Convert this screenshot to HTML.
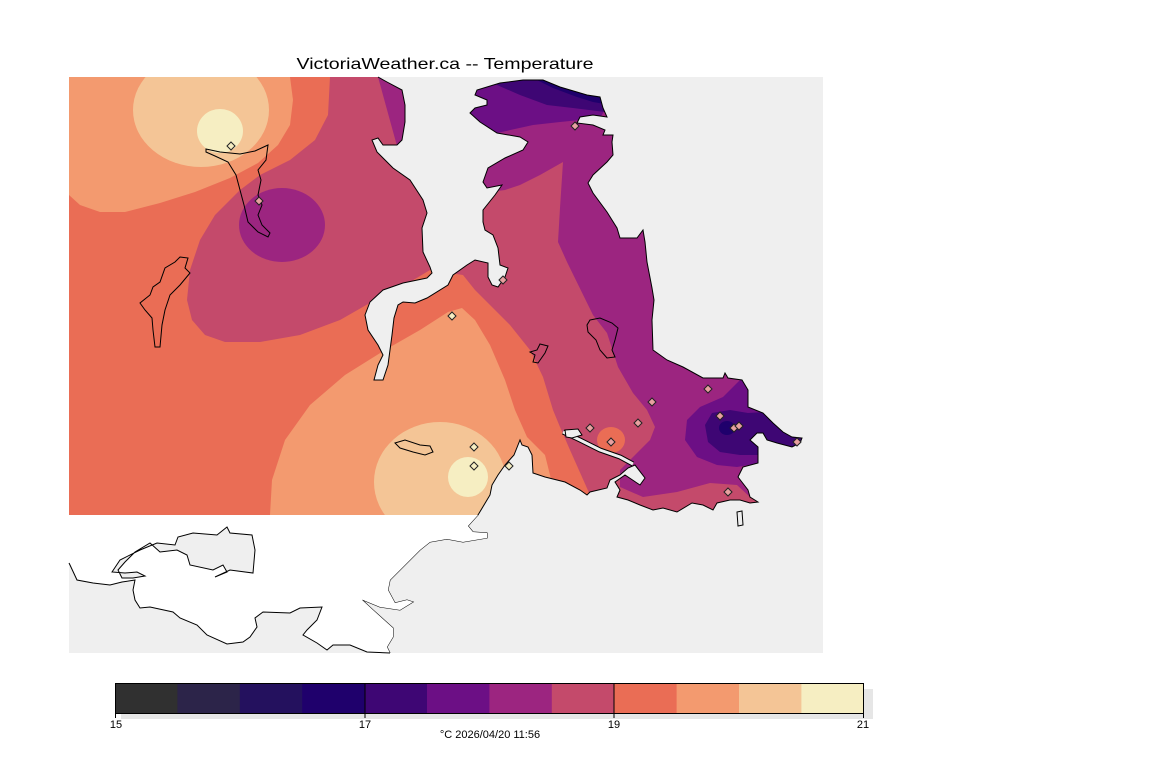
<!DOCTYPE html>
<html><head><meta charset="utf-8"><style>
html,body{margin:0;padding:0;background:#fff;width:1152px;height:768px;overflow:hidden}
svg{display:block}
text{font-family:"Liberation Sans","DejaVu Sans",sans-serif;fill:#000}
</style></head><body>
<svg width="1152" height="768" viewBox="0 0 1152 768" xmlns="http://www.w3.org/2000/svg">
<defs><clipPath id="fc"><rect x="69" y="77" width="754" height="438"/></clipPath></defs>
<text x="445" y="69" font-size="16" text-anchor="middle" textLength="297" lengthAdjust="spacingAndGlyphs">VictoriaWeather.ca -- Temperature</text>
<rect x="69" y="77" width="754" height="576" fill="#efefef"/>
<g clip-path="url(#fc)">
<rect x="69" y="77" width="754" height="438" fill="#ea6d55"/>
<polygon fill="#f39a6f" points="69,77 290,77 293,100 290,125 278,145 258,163 230,178 195,192 160,203 125,212 100,212 80,205 69,195"/>
<ellipse cx="201" cy="110" rx="68" ry="57" fill="#f4c596"/>
<ellipse cx="220" cy="131" rx="23" ry="22" fill="#f6eec2"/>
<polygon fill="#f39a6f" points="270,515 272,480 285,440 310,405 345,375 385,350 420,330 448,312 462,308 475,320 490,345 505,380 515,410 527,437 545,455 560,515"/>
<ellipse cx="440" cy="482" rx="66" ry="60" fill="#f4c596"/>
<ellipse cx="468" cy="477" rx="20" ry="20" fill="#f6eec2"/>
<polygon fill="#c44a6b" points="330,77 328,115 315,140 290,160 260,175 240,190 215,215 200,240 190,270 187,300 192,320 205,335 225,342 260,342 300,335 340,320 375,300 405,285 430,270 463,275 475,290 490,305 510,325 530,350 543,377 553,410 560,427 570,450 590,495 600,515 823,515 823,77"/>
<ellipse cx="282" cy="225" rx="43" ry="37" fill="#9c2580"/>
<polygon fill="#9c2580" points="378,77 400,77 406,100 406,140 397,146"/>
<polygon fill="#9c2580" points="490,192 505,190 520,185 540,175 563,162 560,208 558,242 567,262 593,315 607,333 618,367 633,393 647,410 655,427 650,440 633,457 620,470 620,487 643,497 677,492 710,483 737,485 750,497 823,497 823,77 460,77 460,192"/>
<ellipse cx="611" cy="440" rx="14" ry="13" fill="#ea6d55"/>
<polygon fill="#6c0f85" points="460,77 470,115 497,133 533,125 560,122 600,118 625,77"/>
<polygon fill="#3e0674" points="480,77 497,85 520,95 547,105 573,108 605,112 625,77"/>
<polygon fill="#1f006c" points="520,77 537,80 553,88 577,97 593,102 610,105 625,77"/>
<polygon fill="#6c0f85" points="745,375 723,397 700,407 687,420 685,440 697,457 717,465 737,467 760,463 823,460 823,375"/>
<polygon fill="#3e0674" points="705,425 712,413 730,410 748,413 765,412 823,410 823,470 760,455 740,455 720,452 708,442"/>
<ellipse cx="727" cy="428" rx="8" ry="7" fill="#1f006c"/>
</g>
<polygon fill="#efefef" points="378,77 387,82 402,90 405,105 405,122 402,140 397,145 383,145 378,138 372,140 377,152 393,168 410,180 423,200 427,213 422,228 423,252 430,267 432,273 427,278 403,283 383,290 370,302 365,315 368,330 378,345 383,355 378,365 374,380 383,380 388,365 390,350 392,335 394,318 398,305 403,302 415,303 427,298 448,285 453,275 467,265 475,260 488,263 488,277 492,285 498,287 505,277 508,268 500,265 498,248 493,235 485,230 483,222 483,210 495,195 502,185 487,188 483,182 488,168 505,158 523,150 528,142 520,137 497,133 480,122 470,113 475,108 487,105 487,100 475,95 477,90 500,83 523,80 543,80 560,87 587,95 600,97 603,108 607,117 593,115 580,117 577,123 593,125 605,130 603,135 613,135 612,142 613,155 607,162 593,175 588,183 593,193 607,212 617,228 620,238 637,238 643,230 645,242 647,262 652,288 654,300 652,320 653,350 667,360 683,367 703,378 723,378 725,373 728,378 742,380 748,390 748,407 763,413 773,423 783,432 792,437 802,438 800,443 792,447 777,443 767,440 763,433 757,433 750,440 758,447 758,463 743,467 738,477 748,490 750,497 758,502 750,503 740,500 730,500 717,503 713,510 703,505 692,503 677,512 663,508 653,510 640,505 628,500 617,497 620,490 615,482 625,475 640,485 645,478 635,465 628,468 620,475 610,480 607,488 590,492 587,495 580,490 565,482 545,477 533,473 532,455 528,447 522,445 520,440 514,455 505,465 498,475 492,485 490,495 478,515 823,515 823,77"/>
<polyline fill="none" stroke="#000" stroke-width="1" points="378,77 387,82 402,90 405,105 405,122 402,140 397,145 383,145 378,138 372,140 377,152 393,168 410,180 423,200 427,213 422,228 423,252 430,267 432,273 427,278 403,283 383,290 370,302 365,315 368,330 378,345 383,355 378,365 374,380 383,380 388,365 390,350 392,335 394,318 398,305 403,302 415,303 427,298 448,285 453,275 467,265 475,260 488,263 488,277 492,285 498,287 505,277 508,268 500,265 498,248 493,235 485,230 483,222 483,210 495,195 502,185 487,188 483,182 488,168 505,158 523,150 528,142 520,137 497,133 480,122 470,113 475,108 487,105 487,100 475,95 477,90 500,83 523,80 543,80 560,87 587,95 600,97 603,108 607,117 593,115 580,117 577,123 593,125 605,130 603,135 613,135 612,142 613,155 607,162 593,175 588,183 593,193 607,212 617,228 620,238 637,238 643,230 645,242 647,262 652,288 654,300 652,320 653,350 667,360 683,367 703,378 723,378 725,373 728,378 742,380 748,390 748,407 763,413 773,423 783,432 792,437 802,438 800,443 792,447 777,443 767,440 763,433 757,433 750,440 758,447 758,463 743,467 738,477 748,490 750,497 758,502 750,503 740,500 730,500 717,503 713,510 703,505 692,503 677,512 663,508 653,510 640,505 628,500 617,497 620,490 615,482 625,475 640,485 645,478 635,465 628,468 620,475 610,480 607,488 590,492 587,495 580,490 565,482 545,477 533,473 532,455 528,447 522,445 520,440 514,455 505,465 498,475 492,485 490,495 478,515 468,526 473,532 487,533 487,538 463,542 447,539 430,542 420,550 407,563 390,580 388,590 395,603 407,600 413,602 400,610 380,607 363,600 345,595 360,598 373,610 393,628 393,637 387,647 390,653"/>
<polyline fill="none" stroke="#000" stroke-width="5" stroke-linejoin="round" points="563,432 580,440 600,450 620,457 633,464"/>
<polyline fill="none" stroke="#efefef" stroke-width="3" stroke-linejoin="round" points="563,432 580,440 600,450 620,457 633,464"/>
<polygon fill="#efefef" stroke="#000" points="565,430 578,429 582,435 572,438 566,437"/>
<polygon fill="none" stroke="#000" points="737,512 742,511 743,525 738,526"/>
<polygon fill="#fff" points="69,515 478,515 468,526 473,532 487,533 487,538 463,542 447,539 430,542 420,550 407,563 390,580 388,590 395,603 407,600 413,602 400,610 380,607 363,600 345,595 360,598 373,610 393,628 393,637 387,647 390,653 367,652 350,645 333,645 327,650 317,643 303,635 307,630 317,620 322,607 300,608 290,613 263,612 255,618 257,627 250,637 243,642 227,644 207,635 197,625 180,618 173,612 150,607 140,608 135,600 133,590 135,580 122,582 110,585 93,583 77,580 70,565 69,563"/>
<polyline fill="none" stroke="#000" points="390,653 367,652 350,645 333,645 327,650 317,643 303,635 307,630 317,620 322,607 300,608 290,613 263,612 255,618 257,627 250,637 243,642 227,644 207,635 197,625 180,618 173,612 150,607 140,608 135,600 133,590 135,580 122,582 110,585 93,583 77,580 70,565 69,563"/>
<polygon fill="#efefef" stroke="#000" points="112,572 120,560 140,550 157,543 175,545 178,537 193,533 217,535 227,527 230,533 252,535 255,550 253,573 230,570 215,577 227,572 223,565 213,570 190,565 187,555 177,550 160,552 150,543 135,552 125,562 118,570 122,578 133,578 145,576 137,572 125,573"/>
<polygon fill="none" stroke="#000" points="206,149 220,152 240,154 255,151 268,145 266,160 258,170 261,180 258,195 262,205 258,215 262,225 270,233 268,237 258,232 248,222 244,205 240,190 236,175 228,162 215,156 206,152"/>
<polygon fill="none" stroke="#000" points="180,257 188,258 185,268 190,273 180,285 170,295 165,310 162,325 160,347 155,347 153,330 152,318 145,310 140,303 150,295 153,287 160,282 165,268 175,262"/>
<polygon fill="none" stroke="#000" points="395,443 405,440 420,445 430,446 433,452 425,455 413,452 400,448"/>
<polygon fill="none" stroke="#000" points="590,320 600,318 612,323 618,328 615,340 612,350 615,357 607,358 600,350 596,340 588,332 587,325"/>
<polygon fill="none" stroke="#000" points="540,344 548,346 545,353 538,363 533,362 535,355 530,352 537,350"/>
<g stroke="#222" stroke-width="1" fill="#f6eec2">
<polygon points="231,142 235,146 231,150 227,146"/>
<polygon points="452,312 456,316 452,320 448,316"/>
<polygon points="474,443 478,447 474,451 470,447"/>
<polygon points="474,462 478,466 474,470 470,466"/>
<polygon points="509,462 513,466 509,470 505,466"/>
</g>
<g stroke="#222" stroke-width="1" fill="#e8a0a0">
<polygon points="259,197 263,201 259,205 255,201"/>
<polygon points="575,122 579,126 575,130 571,126"/>
<polygon points="503,276 507,280 503,284 499,280"/>
<polygon points="590,424 594,428 590,432 586,428"/>
<polygon points="611,438 615,442 611,446 607,442"/>
<polygon points="638,419 642,423 638,427 634,423"/>
<polygon points="652,398 656,402 652,406 648,402"/>
<polygon points="708,385 712,389 708,393 704,389"/>
<polygon points="720,412 724,416 720,420 716,416"/>
<polygon points="734,424 738,428 734,432 730,428"/>
<polygon points="739,422 743,426 739,430 735,426"/>
<polygon points="728,488 732,492 728,496 724,492"/>
<polygon points="797,438 801,442 797,446 793,442"/>
</g>
<rect x="121" y="689" width="752" height="30" fill="#e6e6e6"/>
<g>
<rect x="115" y="683" width="63" height="31" fill="#303030"/>
<rect x="177.4" y="683" width="63" height="31" fill="#2c2449"/>
<rect x="239.8" y="683" width="63" height="31" fill="#24115e"/>
<rect x="302.2" y="683" width="63" height="31" fill="#1f006c"/>
<rect x="364.6" y="683" width="63" height="31" fill="#3e0674"/>
<rect x="427" y="683" width="63" height="31" fill="#6c0f85"/>
<rect x="489.4" y="683" width="63" height="31" fill="#9c2580"/>
<rect x="551.8" y="683" width="63" height="31" fill="#c44a6b"/>
<rect x="614.2" y="683" width="63" height="31" fill="#ea6d55"/>
<rect x="676.6" y="683" width="63" height="31" fill="#f39a6f"/>
<rect x="739" y="683" width="63" height="31" fill="#f4c596"/>
<rect x="801.4" y="683" width="62.6" height="31" fill="#f6eec2"/>
</g>
<rect x="115.5" y="683.5" width="748" height="30" fill="none" stroke="#000"/>
<line x1="365" y1="683" x2="365" y2="718" stroke="#000"/>
<line x1="614" y1="683" x2="614" y2="718" stroke="#000"/>
<line x1="115.5" y1="713" x2="115.5" y2="718" stroke="#000"/>
<line x1="863.5" y1="713" x2="863.5" y2="718" stroke="#000"/>
<g font-size="11" text-anchor="middle">
<text x="116" y="728">15</text>
<text x="365" y="728">17</text>
<text x="614" y="728">19</text>
<text x="863" y="728">21</text>
<text x="490" y="738">°C  2026/04/20 11:56</text>
</g>
</svg>
</body></html>
